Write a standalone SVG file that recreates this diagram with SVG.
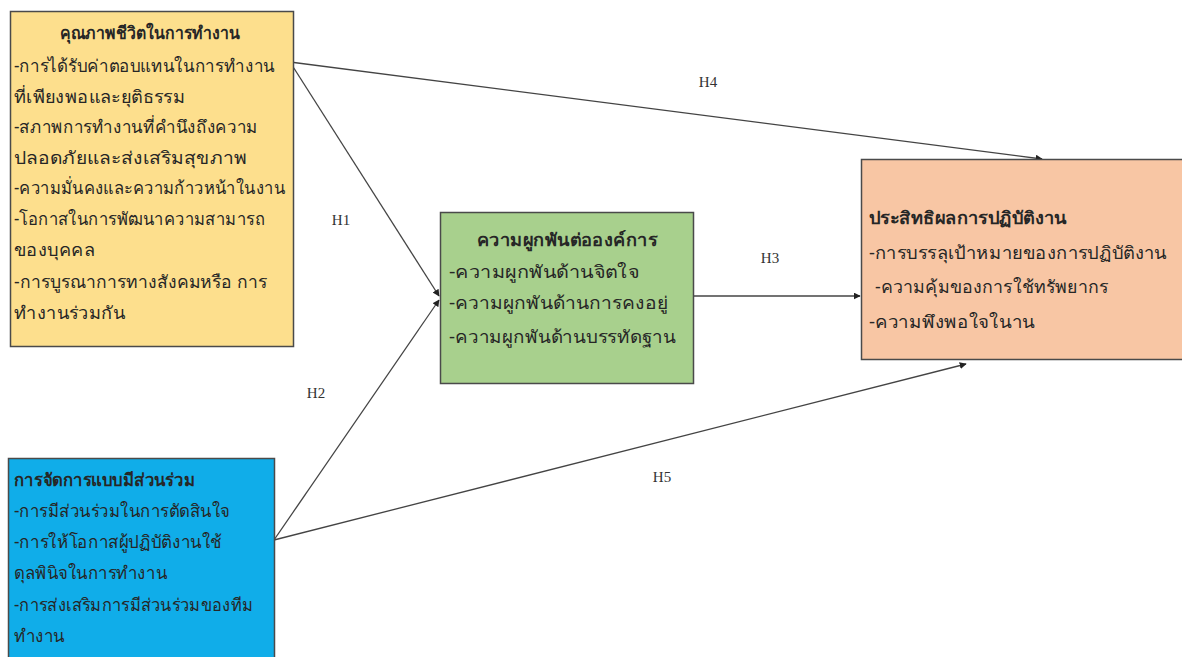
<svg xmlns="http://www.w3.org/2000/svg" width="1182" height="657" viewBox="0 0 1182 657">
<style>
.box{stroke:#4a4a4a;stroke-width:1.5}
.t{font-family:"Noto Sans","DejaVu Sans",sans-serif;font-size:17.5px;fill:#262626}
.b{font-weight:bold}
.h{font-family:"Liberation Serif",serif;font-size:15px;fill:#333;text-anchor:middle}
.c{stroke:#444;stroke-width:1.3;fill:none;marker-end:url(#ah)}
</style>
<defs>
<marker id="ah" viewBox="0 0 10 10" refX="9" refY="5" markerWidth="7" markerHeight="7" markerUnits="userSpaceOnUse" orient="auto">
<path d="M0,0 L10,5 L0,10 z" fill="#222"/>
</marker>
</defs>
<rect width="1182" height="657" fill="#ffffff"/>
<g id="connectors">
<line class="c" x1="290" y1="62" x2="1042" y2="159"/>
<line class="c" x1="290" y1="62" x2="439" y2="296"/>
<line class="c" x1="274" y1="540" x2="439" y2="300"/>
<line class="c" x1="693" y1="296" x2="860" y2="296"/>
<line class="c" x1="274" y1="540" x2="966" y2="364"/>
<text class="h" x="708" y="87">H4</text>
<text class="h" x="341" y="225">H1</text>
<text class="h" x="770" y="263">H3</text>
<text class="h" x="316" y="398">H2</text>
<text class="h" x="662" y="482">H5</text>
</g>
<g id="node-qwl">
<rect class="box" x="10.5" y="11.5" width="283" height="335" fill="#FDDF8D"/>
<text class="t b" x="150" y="39" text-anchor="middle" textLength="180" lengthAdjust="spacingAndGlyphs">คุณภาพชีวิตในการทำงาน</text>
<text class="t" x="14" y="72" textLength="261" lengthAdjust="spacingAndGlyphs">-การได้รับค่าตอบแทนในการทำงาน</text>
<text class="t" x="14" y="103" textLength="171" lengthAdjust="spacingAndGlyphs">ที่เพียงพอและยุติธรรม</text>
<text class="t" x="14" y="133" textLength="244" lengthAdjust="spacingAndGlyphs">-สภาพการทำงานที่คำนึงถึงความ</text>
<text class="t" x="14" y="164" textLength="233" lengthAdjust="spacingAndGlyphs">ปลอดภัยและส่งเสริมสุขภาพ</text>
<text class="t" x="14" y="194" textLength="271" lengthAdjust="spacingAndGlyphs">-ความมั่นคงและความก้าวหน้าในงาน</text>
<text class="t" x="14" y="225" textLength="251" lengthAdjust="spacingAndGlyphs">-โอกาสในการพัฒนาความสามารถ</text>
<text class="t" x="14" y="256" textLength="81" lengthAdjust="spacingAndGlyphs">ของบุคคล</text>
<text class="t" x="14" y="288" textLength="253" lengthAdjust="spacingAndGlyphs">-การบูรณาการทางสังคมหรือ การ</text>
<text class="t" x="14" y="319" textLength="111" lengthAdjust="spacingAndGlyphs">ทำงานร่วมกัน</text>
</g>
<g id="node-participation">
<rect class="box" x="8.5" y="458.5" width="266" height="210" fill="#10ADE9"/>
<text class="t b" x="14" y="486" textLength="181" lengthAdjust="spacingAndGlyphs">การจัดการแบบมีส่วนร่วม</text>
<text class="t" x="14" y="517" textLength="216" lengthAdjust="spacingAndGlyphs">-การมีส่วนร่วมในการตัดสินใจ</text>
<text class="t" x="14" y="548" textLength="208" lengthAdjust="spacingAndGlyphs">-การให้โอกาสผู้ปฏิบัติงานใช้</text>
<text class="t" x="14" y="579" textLength="153" lengthAdjust="spacingAndGlyphs">ดุลพินิจในการทำงาน</text>
<text class="t" x="14" y="611" textLength="239" lengthAdjust="spacingAndGlyphs">-การส่งเสริมการมีส่วนร่วมของทีม</text>
<text class="t" x="14" y="642" textLength="51" lengthAdjust="spacingAndGlyphs">ทำงาน</text>
</g>
<g id="node-commitment">
<rect class="box" x="440.5" y="212.5" width="253" height="171" fill="#A8D08D"/>
<text class="t b" x="567" y="246" text-anchor="middle" textLength="180" lengthAdjust="spacingAndGlyphs">ความผูกพันต่อองค์การ</text>
<text class="t" x="449" y="278" textLength="190" lengthAdjust="spacingAndGlyphs">-ความผูกพันด้านจิตใจ</text>
<text class="t" x="449" y="309" textLength="219" lengthAdjust="spacingAndGlyphs">-ความผูกพันด้านการคงอยู่</text>
<text class="t" x="449" y="343" textLength="227" lengthAdjust="spacingAndGlyphs">-ความผูกพันด้านบรรทัดฐาน</text>
</g>
<g id="node-performance">
<rect class="box" x="861.5" y="159.5" width="330" height="200" fill="#F8C6A4"/>
<text class="t b" x="869" y="224" textLength="198" lengthAdjust="spacingAndGlyphs">ประสิทธิผลการปฏิบัติงาน</text>
<text class="t" x="869" y="259" textLength="298" lengthAdjust="spacingAndGlyphs">-การบรรลุเป้าหมายของการปฏิบัติงาน</text>
<text class="t" x="875" y="293" textLength="233" lengthAdjust="spacingAndGlyphs">-ความคุ้มของการใช้ทรัพยากร</text>
<text class="t" x="869" y="328" textLength="166" lengthAdjust="spacingAndGlyphs">-ความพึงพอใจในาน</text>
</g>
</svg>
